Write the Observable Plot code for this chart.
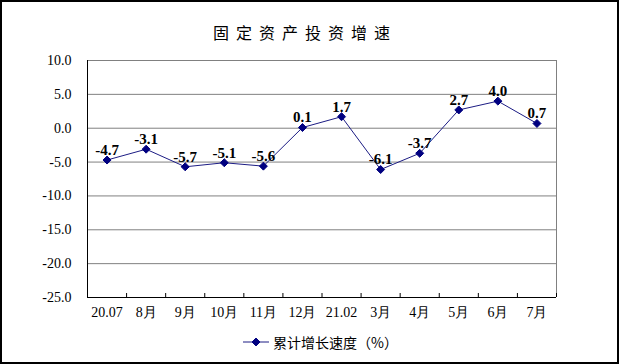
<!DOCTYPE html>
<html>
<head>
<meta charset="utf-8">
<script src="https://cdn.jsdelivr.net/npm/d3@7"></script>
<script src="https://cdn.jsdelivr.net/npm/@observablehq/plot@0.6"></script>
<style>
  html, body { margin: 0; padding: 0; background: #fff; }
  #wrap { position: relative; width: 619px; height: 364px; overflow: hidden; background: #fff; }
  #frame { position: absolute; left: 0; top: 0; width: 619px; height: 364px; box-sizing: border-box; border: 2px solid #000; }
  #title { position: absolute; left: 213px; top: 22px; font-family: "Noto Sans CJK SC", sans-serif; font-size: 16px; letter-spacing: 7px; color: #000; white-space: nowrap; line-height: 20px; }
  #chart { position: absolute; left: 0; top: 40px; }
  #legend { position: absolute; left: 243px; top: 333px; font-family: "Noto Sans CJK SC", sans-serif; font-size: 14px; color: #000; white-space: nowrap; line-height: 18px; display: flex; align-items: center; }
  #legend svg { margin-right: 3px; }
</style>
</head>
<body>
<div id="wrap">
  <div id="frame"></div>
  <div id="title">固定资产投资增速</div>
  <div id="chart"></div>
  <div id="legend"></div>
</div>
<script>
const categories = ["20.07", "8月", "9月", "10月", "11月", "12月", "21.02", "3月", "4月", "5月", "6月", "7月"];
const values = [-4.7, -3.1, -5.7, -5.1, -5.6, 0.1, 1.7, -6.1, -3.7, 2.7, 4.0, 0.7];
const yTicks = [-25, -20, -15, -10, -5, 0, 5, 10];
const seriesName = "累计增长速度（%）";

const lineColor = "#1c1c84";
const markColor = "#000080";
const numFont = "'Liberation Serif', 'Times New Roman', serif";

const data = categories.map((c, i) => ({cat: c, xi: i + 0.5, v: values[i]}));

const W = 619, H = 290, mT = 20, mB = 33, mL = 87, mR = 63;
const innerH = H - mT - mB;

const chart = Plot.plot({
  width: W,
  height: H,
  marginTop: mT,
  marginBottom: mB,
  marginLeft: mL,
  marginRight: mR,
  style: {background: "transparent", overflow: "visible"},
  x: {type: "linear", domain: [0, categories.length], axis: null},
  y: {domain: [-25, 10], axis: null},
  marks: [
    Plot.gridY(yTicks, {stroke: "#808080", strokeOpacity: 1, strokeWidth: 1}),
    Plot.ruleX([categories.length], {stroke: "#808080", strokeWidth: 1}),
    Plot.ruleX([0], {stroke: "#000", strokeWidth: 1}),
    Plot.ruleY([-25], {stroke: "#000", strokeWidth: 1}),
    Plot.ruleX(d3.range(categories.length + 1), {x: d => d, stroke: "#000", strokeWidth: 1, insetTop: innerH - 4}),
    Plot.axisY(yTicks, {
      label: null,
      tickSize: 0, tickPadding: 16,
      tickFormat: d => d.toFixed(1),
      fontSize: 14, fontFamily: numFont, fill: "#000"
    }),
    Plot.axisX(data.map(d => d.xi), {
      label: null,
      tickSize: 0, tickPadding: 10,
      tickFormat: (d, i) => categories[i],
      fontSize: 14, fontFamily: numFont, fill: "#000"
    }),
    Plot.line(data, {x: "xi", y: "v", stroke: lineColor, strokeWidth: 1}),
    Plot.dot(data, {x: "xi", y: "v", symbol: "diamond2", r: 3.6, fill: markColor, stroke: markColor, strokeWidth: 1}),
    Plot.text(data, {
      x: "xi", y: "v", text: d => d.v.toFixed(1), dy: -10,
      fontSize: 15, fontWeight: "bold", fontFamily: numFont, fill: "#000"
    })
  ]
});
document.getElementById("chart").appendChild(chart);

// legend
const legend = document.getElementById("legend");
const ns = "http://www.w3.org/2000/svg";
const sw = document.createElementNS(ns, "svg");
sw.setAttribute("width", "27");
sw.setAttribute("height", "12");
const ln = document.createElementNS(ns, "line");
ln.setAttribute("x1", "0"); ln.setAttribute("x2", "26");
ln.setAttribute("y1", "6"); ln.setAttribute("y2", "6");
ln.setAttribute("stroke", lineColor); ln.setAttribute("stroke-width", "1");
sw.appendChild(ln);
const dm = document.createElementNS(ns, "path");
dm.setAttribute("d", d3.symbol(d3.symbolDiamond2, 40)());
dm.setAttribute("transform", "translate(13,6)");
dm.setAttribute("fill", markColor); dm.setAttribute("stroke", markColor);
sw.appendChild(dm);
legend.appendChild(sw);
const lt = document.createElement("span");
lt.textContent = seriesName;
legend.appendChild(lt);
</script>
</body>
</html>
